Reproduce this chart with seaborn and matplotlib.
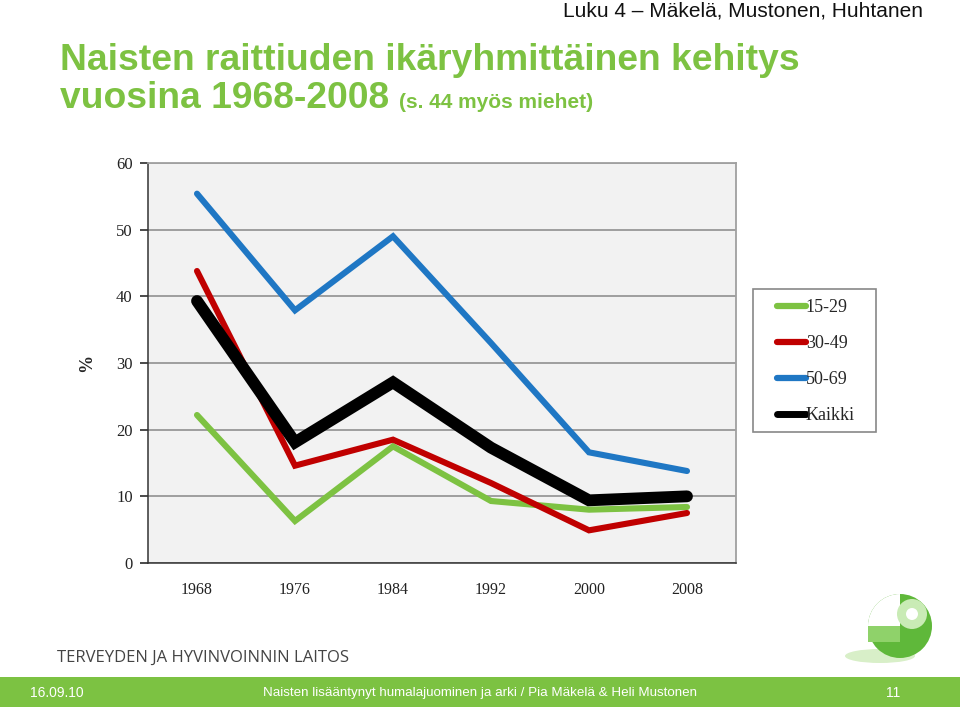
import matplotlib
matplotlib.use("Agg")
import matplotlib.pyplot as plt
import matplotlib.patches as mpatches
from matplotlib.lines import Line2D
import seaborn as sns
import pandas as pd
import numpy as np

years = ["1968", "1976", "1984", "1992", "2000", "2008"]
g15_29 = [22.2, 6.3, 17.5, 9.3, 8.0, 8.4]
g30_49 = [43.8, 14.6, 18.5, 12.0, 4.9, 7.5]
g50_69 = [55.4, 37.9, 49.0, 33.0, 16.6, 13.8]
kaikki = [39.3, 18.1, 27.1, 17.3, 9.4, 10.0]
series_names = ["15-29", "30-49", "50-69", "Kaikki"]
yticks = [0, 10, 20, 30, 40, 50, 60]

colors = {"15-29": "#7dc242", "30-49": "#c00000", "50-69": "#1f77c4", "Kaikki": "#000000"}
widths = {"15-29": 4.4, "30-49": 4.4, "50-69": 4.4, "Kaikki": 8.5}

rows = []
for name, vals in zip(series_names, [g15_29, g30_49, g50_69, kaikki]):
    for i, (y, v) in enumerate(zip(years, vals)):
        rows.append({"pos": i, "year": y, "value": v, "group": name})
df = pd.DataFrame(rows)

sns.set_theme(style="white")
plt.rcParams["font.family"] = ["Liberation Serif", "DejaVu Serif"]

fig = plt.figure(figsize=(9.6, 7.07), dpi=100)
ax = fig.add_axes([148/960, 1-563/707, 588/960, 400/707])
ax.set_facecolor("#f2f2f2")

sns.lineplot(data=df, x="pos", y="value", hue="group", palette=colors,
             hue_order=series_names, ax=ax, legend=False, sort=False)
for line, name in zip(ax.get_lines(), series_names):
    line.set_linewidth(widths[name])
    line.set_solid_capstyle("round")
    line.set_solid_joinstyle("miter")

ax.set_xlim(-0.5, 5.5)
ax.set_ylim(0, 60)
ax.set_yticks(yticks)
ax.set_yticklabels([str(t) for t in yticks], fontsize=12, color="#222222")
ax.yaxis.grid(True, color="#888888", linewidth=1.1)
ax.set_axisbelow(True)
ax.set_xticks(range(len(years)))
ax.set_xticklabels(years, fontsize=11.5, color="#222222")
ax.set_xticks(np.arange(-0.5, 6, 1), minor=True)
ax.tick_params(axis="x", which="major", length=0, pad=14)
ax.tick_params(axis="x", which="minor", length=5, color="#333333", direction="out")
ax.tick_params(axis="y", length=6, color="#333333", direction="out", left=True, pad=5)
ax.set_xlabel("")
ax.set_ylabel("%", fontsize=13, fontweight="bold", labelpad=15)
for s in ["left", "bottom"]:
    ax.spines[s].set_color("#333333")
    ax.spines[s].set_linewidth(1.1)
for s in ["top", "right"]:
    ax.spines[s].set_color("#a0a0a0")
    ax.spines[s].set_linewidth(1.3)

# Legend: manual frame + frameless legend
fig.patches.append(mpatches.Rectangle((753/960, 1-432/707), 123/960, 143/707,
                                      transform=fig.transFigure, facecolor="white",
                                      edgecolor="#888888", linewidth=1.2, zorder=5))
handles = [Line2D([0], [0], color=colors[n], lw=4.5 if n != "Kaikki" else 5, solid_capstyle="round") for n in series_names]
leg = fig.legend(handles, series_names, loc="upper left",
                 bbox_to_anchor=(777/960, 1-299/707), frameon=False,
                 fontsize=13, handlelength=1.6, handletextpad=0.0, labelspacing=1.06,
                 borderpad=0, borderaxespad=0)
leg.set_zorder(6)

# Titles and header
fig.text(923/960, 1-11/707, "Luku 4 \u2013 Mäkelä, Mustonen, Huhtanen", ha="right", va="center",
         fontsize=15, family="Liberation Sans", color="#111111")
fig.text(60/960, 1-60/707, "Naisten raittiuden ikäryhmittäinen kehitys", ha="left", va="center",
         fontsize=26.8, fontweight="bold", family="Liberation Sans", color="#7dc242")
fig.text(60/960, 1-99/707, "vuosina 1968-2008", ha="left", va="center",
         fontsize=26.8, fontweight="bold", family="Liberation Sans", color="#7dc242")
fig.text(399/960, 1-103/707, "(s. 44 myös miehet)", ha="left", va="center",
         fontsize=15, fontweight="bold", family="Liberation Sans", color="#7dc242")

# Footer
fig.text(57/960, 1-658/707, "TERVEYDEN JA HYVINVOINNIN LAITOS", ha="left", va="center",
         fontsize=12, family="Open Sans", color="#444444")
fig.patches.append(mpatches.Rectangle((0, 0), 1, 30/707, transform=fig.transFigure,
                                      facecolor="#7cc242", edgecolor="none", zorder=0))
fig.text(30/960, 14/707, "16.09.10", ha="left", va="center", fontsize=10,
         family="Liberation Sans", color="white")
fig.text(480/960, 14/707, "Naisten lisääntynyt humalajuominen ja arki / Pia Mäkelä & Heli Mustonen",
         ha="center", va="center", fontsize=9.6, family="Liberation Sans", color="white")
fig.text(893/960, 14/707, "11", ha="center", va="center", fontsize=10,
         family="Liberation Sans", color="white")

# Logo (simple green sphere)
lax = fig.add_axes([830/960, 1-668/707, 110/960, 78/707])
lax.set_xlim(0, 110); lax.set_ylim(0, 78)
lax.axis("off")
lax.add_patch(mpatches.Ellipse((50, 12), 70, 14, facecolor="#d8efc8", edgecolor="none"))
lax.add_patch(mpatches.Circle((70, 42), 32, facecolor="#5fb83a", edgecolor="none"))
lax.add_patch(mpatches.Wedge((70, 42), 32, 90, 180, facecolor="white", edgecolor="none"))
lax.add_patch(mpatches.Rectangle((38, 26), 32, 16, facecolor="#8fd26a", edgecolor="none"))
lax.add_patch(mpatches.Circle((82, 54), 15, facecolor="#c9ebb5", edgecolor="none"))
lax.add_patch(mpatches.Circle((82, 54), 6, facecolor="white", edgecolor="none"))

fig.savefig("out.png", dpi=100)
